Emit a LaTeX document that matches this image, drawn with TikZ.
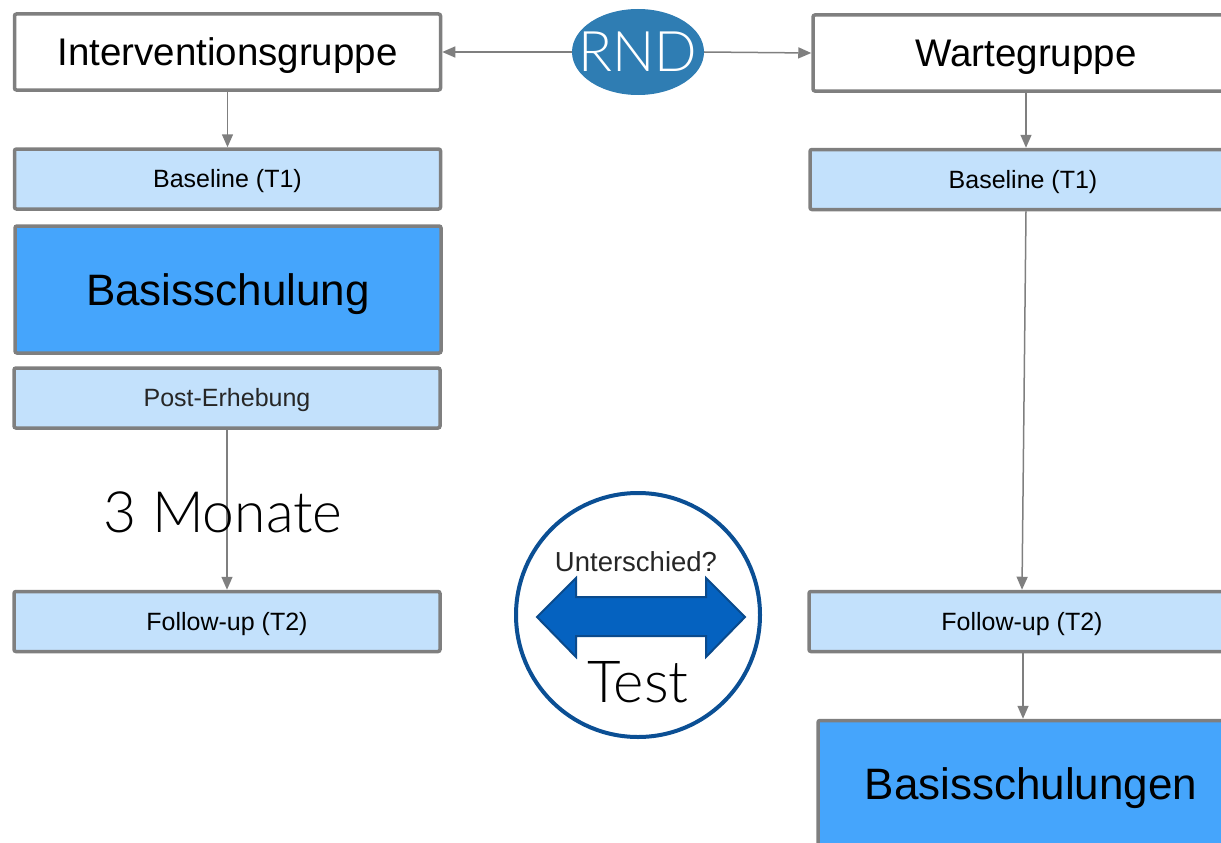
\documentclass[tikz,border=0pt]{standalone}
\usepackage{fontspec}
\setmainfont{Liberation Sans}
\newfontfamily\lightfont{Lato}[UprightFont={* Light}]
\usetikzlibrary{shapes.geometric,arrows.meta}
\definecolor{bordergray}{HTML}{7F7F7F}
\definecolor{lightblue}{HTML}{C3E1FC}
\definecolor{midblue}{HTML}{45A5FC}
\definecolor{rndblue}{HTML}{2F7DB3}
\definecolor{circblue}{HTML}{0B4F94}
\definecolor{arrfill}{HTML}{0562C0}
\definecolor{arrdraw}{HTML}{0A4A8C}
\tikzset{
  box/.style={draw=bordergray, line width=3.5pt, rounded corners=2pt, inner sep=0pt,
    text depth=0pt, align=center},
  groupbox/.style={box, fill=white, minimum width=426, minimum height=76,
    font=\fontsize{38.5}{40}\selectfont, text height=27.5pt},
  smallbox/.style={box, fill=lightblue, minimum width=426, minimum height=60,
    font=\fontsize{25}{28}\selectfont, text height=17.9pt},
  bigbox/.style={box, fill=midblue, minimum width=426, minimum height=127,
    font=\fontsize{44}{48}\selectfont, text height=31.5pt},
  conn/.style={draw=bordergray, line width=1.5pt, -{Triangle[length=13pt,width=11pt]}},
  lbl/.style={inner sep=0pt, text depth=0pt}
}
\begin{document}
\begin{tikzpicture}[x=1pt,y=-1pt]
\useasboundingbox (0,0) rectangle (1221,843);
% left column
\node[groupbox] (ig) at (227.5,52) {Interventionsgruppe};
\node[smallbox] (lb) at (227.5,179) {Baseline (T1)};
\node[bigbox] (ls) at (228,289.5) {Basisschulung};
\node[smallbox, text=black!85] (pe) at (227,398) {Post-Erhebung};
\node[smallbox] (lf) at (227,621.5) {Follow-up (T2)};
% right column
\node[groupbox] (wg) at (1026,53) {Wartegruppe};
\node[smallbox] (rb) at (1023,179.5) {Baseline (T1)};
\node[smallbox] (rf) at (1022,621.5) {Follow-up (T2)};
\node[bigbox] (rs) at (1031,784) {Basisschulungen};
% RND
\node[ellipse, fill=rndblue, minimum width=132, minimum height=86, inner sep=0pt] (rnd) at (638,52) {};
\node[lbl, text=white, text height=40pt, font=\lightfont\fontsize{56}{58}\selectfont] (rndt) at (rnd.center) {RND};
% connectors
\draw[conn] (rnd.west) -- (ig.east);
\draw[conn] (rnd.east) -- (wg.west);
\draw[conn] (ig.south) -- (lb.north);
\draw[conn] (pe.south) -- (lf.north);
\draw[conn] (wg.south) -- (wg.south |- rb.north);
\draw[conn] ([xshift=3pt]rb.south) -- (rf.north);
\draw[conn] ([xshift=1pt]rf.south) -- ([xshift=1pt]rf.south |- rs.north);
% 3 Monate
\node[lbl, text height=41pt, font=\lightfont\fontsize{57}{60}\selectfont] (mon) at (223,512) {3 Monate};
% test circle
\node[circle, draw=circblue, line width=4pt, fill=white, minimum size=244, inner sep=0pt] (tc) at (638,615) {};
\draw[fill=arrfill, draw=arrdraw, line width=2pt, line join=miter]
  (537,617) -- (576,578) -- (576,597) -- (706,597) -- (706,578) -- (745,617)
  -- (706,657) -- (706,636) -- (576,636) -- (576,657) -- cycle;
\node[lbl, text height=19.7pt, font=\fontsize{27.5}{30}\selectfont, text=black!85] (us) at (636,562) {Unterschied?};
\node[lbl, text height=41pt, font=\lightfont\fontsize{58}{60}\selectfont] (ts) at (638,682) {Test};
\end{tikzpicture}
\end{document}
